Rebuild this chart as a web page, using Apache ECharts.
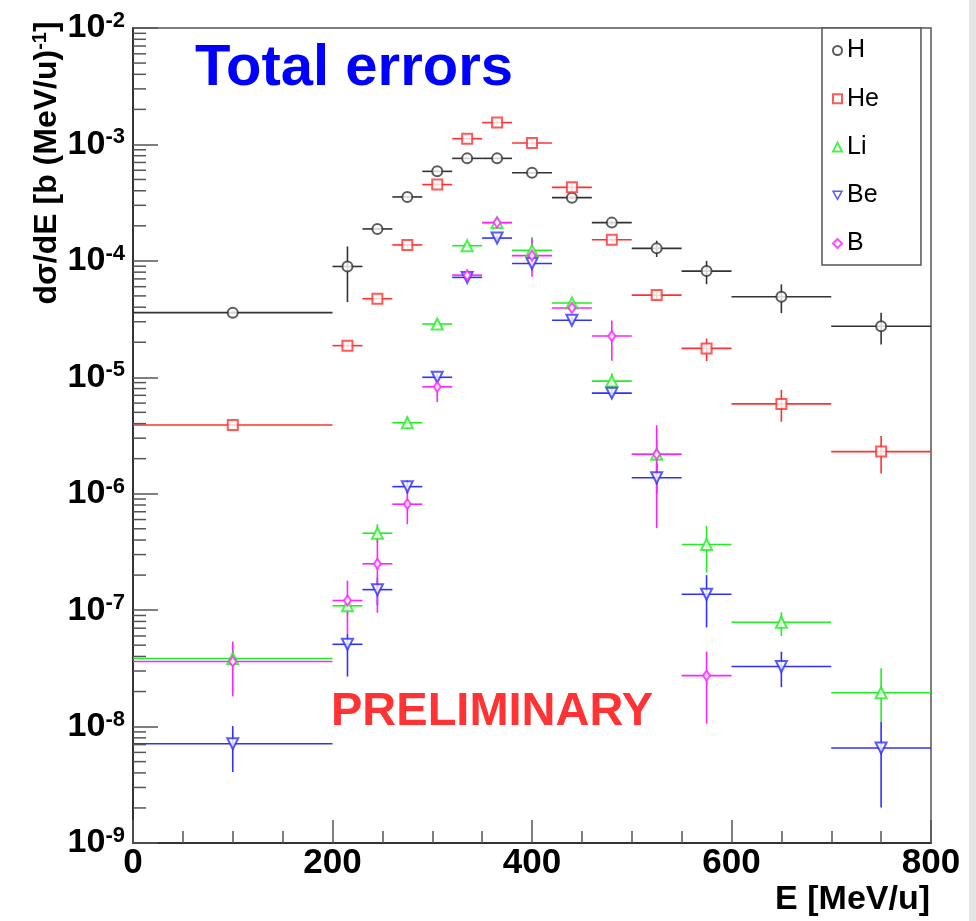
<!DOCTYPE html>
<html>
<head>
<meta charset="utf-8">
<script src="https://cdn.jsdelivr.net/npm/echarts@6/dist/echarts.min.js"></script>
<style>
html,body{margin:0;padding:0;background:#fff;}
#c{width:976px;height:921px;}
</style>
</head>
<body>
<div id="c"></div>
<script>
// ---- data ----
const binCenters = [100,215,245,275,305,335,365,400,440,480,525,575,650,750];
const binLow     = [0,200,230,260,290,320,350,380,420,460,500,550,600,700];
const binHigh    = [200,230,260,290,320,350,380,420,460,500,550,600,700,800];

const H_val = [3.59e-5,8.95e-5,1.88e-4,3.54e-4,5.87e-4,7.59e-4,7.59e-4,5.71e-4,3.49e-4,2.13e-4,1.28e-4,8.17e-5,4.92e-5,2.74e-5];
const H_lo  = [3.5e-5,4.43e-5,1.83e-4,3.45e-4,5.75e-4,7.45e-4,7.45e-4,5.6e-4,3.4e-4,2.05e-4,1.08e-4,6.3e-5,3.56e-5,1.91e-5];
const H_hi  = [3.68e-5,1.33e-4,1.93e-4,3.63e-4,5.99e-4,7.73e-4,7.73e-4,5.82e-4,3.58e-4,2.21e-4,1.49e-4,1.0e-4,6.28e-5,3.59e-5];

const He_val = [3.89e-6,1.87e-5,4.73e-5,1.37e-4,4.52e-4,1.12e-3,1.54e-3,1.03e-3,4.28e-4,1.52e-4,5.08e-5,1.77e-5,5.91e-6,2.30e-6];
const He_lo  = [3.8e-6,1.82e-5,4.6e-5,1.33e-4,4.4e-4,1.09e-3,1.5e-3,1.0e-3,3.9e-4,1.47e-4,4.6e-5,1.38e-5,4.15e-6,1.49e-6];
const He_hi  = [3.98e-6,1.92e-5,4.86e-5,1.41e-4,4.64e-4,1.15e-3,1.58e-3,1.06e-3,4.6e-4,1.57e-4,5.6e-5,2.15e-5,7.8e-6,3.13e-6];

const Li_val = [3.84e-8,1.09e-7,4.58e-7,4.07e-6,2.87e-5,1.35e-4,2.13e-4,1.23e-4,4.35e-5,9.27e-6,2.18e-6,3.66e-7,7.86e-8,1.95e-8];
const Li_lo  = [3.3e-8,9.0e-8,3.8e-7,3.6e-6,2.7e-5,1.3e-4,2.0e-4,1.0e-4,4.1e-5,8.0e-6,1.6e-6,2.11e-7,6.0e-8,1.1e-8];
const Li_hi  = [4.5e-8,1.3e-7,5.47e-7,4.6e-6,3.05e-5,1.4e-4,2.25e-4,1.6e-4,4.6e-5,1.08e-5,2.9e-6,5.3e-7,9.6e-8,3.17e-8];

const Be_val = [7.13e-9,5.09e-8,1.5e-7,1.15e-6,1.0e-5,7.21e-5,1.57e-4,9.5e-5,3.09e-5,7.31e-6,1.37e-6,1.37e-7,3.28e-8,6.55e-9];
const Be_lo  = [4.07e-9,2.69e-8,1.1e-7,1.0e-6,9.4e-6,6.9e-5,1.5e-4,8.8e-5,2.9e-5,6.6e-6,1.0e-6,7.1e-8,2.18e-8,2.02e-9];
const Be_hi  = [1.01e-8,6.25e-8,1.9e-7,1.3e-6,1.07e-5,7.5e-5,1.64e-4,1.03e-4,3.3e-5,8.1e-6,1.8e-6,2.0e-7,4.4e-8,1.1e-8];

const B_val = [3.62e-8,1.21e-7,2.5e-7,8.13e-7,8.28e-6,7.54e-5,2.13e-4,1.11e-4,3.94e-5,2.26e-5,2.18e-6,2.74e-8,null,null];
const B_lo  = [1.82e-8,6.25e-8,9.5e-8,5.47e-7,6.12e-6,7.2e-5,2.05e-4,7.3e-5,3.7e-5,1.39e-5,5.06e-7,1.06e-8,null,null];
const B_hi  = [5.37e-8,1.79e-7,4.07e-7,1.15e-6,1.0e-5,7.9e-5,2.2e-4,1.55e-4,4.2e-5,3.08e-5,3.87e-6,4.4e-8,null,null];

const seriesNames = ['H','He','Li','Be','B'];
const yDecadeExponents = [-9,-8,-7,-6,-5,-4,-3];
const minorTickMultipliers = [2,3,4,5,6,7,8,9];

// ---- styles ----
const FONT = 'Liberation Sans';
const defs = [
  {name:'H',  val:H_val,  lo:H_lo,  hi:H_hi,  color:'#333333', symbol:'emptyCircle',   size:10, rot:0},
  {name:'He', val:He_val, lo:He_lo, hi:He_hi, color:'#ff3030', symbol:'emptyRect',     size:10, rot:0},
  {name:'Li', val:Li_val, lo:Li_lo, hi:Li_hi, color:'#22ee22', symbol:'emptyTriangle', size:11, rot:0},
  {name:'Be', val:Be_val, lo:Be_lo, hi:Be_hi, color:'#3030ff', symbol:'emptyTriangle', size:11, rot:180},
  {name:'B',  val:B_val,  lo:B_lo,  hi:B_hi,  color:'#ff22ff', symbol:'emptyDiamond',  size:[7,10], rot:0}
];

const series = [];
defs.forEach(function(d){
  const errData = [];
  const ptData = [];
  for (let i = 0; i < binCenters.length; i++) {
    if (d.val[i] == null) continue;
    errData.push([binCenters[i], d.val[i], binLow[i], binHigh[i], d.lo[i], d.hi[i]]);
    ptData.push([binCenters[i], d.val[i]]);
  }
  series.push({
    type:'custom',
    name: d.name + ' err',
    data: errData,
    z: 2,
    silent: true,
    encode: {x:0, y:1},
    renderItem: function(params, api){
      const c = api.coord([api.value(0), api.value(1)]);
      const l = api.coord([api.value(2), api.value(1)]);
      const r = api.coord([api.value(3), api.value(1)]);
      const lo = api.coord([api.value(0), api.value(4)]);
      const hi = api.coord([api.value(0), api.value(5)]);
      const st = {stroke: d.color, lineWidth: 1.6};
      return {type:'group', children:[
        {type:'line', shape:{x1:l[0], y1:c[1], x2:r[0], y2:c[1]}, style:st},
        {type:'line', shape:{x1:c[0], y1:lo[1], x2:c[0], y2:hi[1]}, style:st}
      ]};
    }
  });
  series.push({
    type:'scatter',
    name: d.name,
    data: ptData,
    symbol: d.symbol,
    symbolSize: d.size,
    symbolRotate: d.rot,
    z: 5,
    itemStyle: {color: d.color, borderColor: d.color, borderWidth: 1.5}
  });
});

// minor y ticks (2..9 x 10^k)
const minorData = [];
yDecadeExponents.forEach(function(k){
  minorTickMultipliers.forEach(function(m){ minorData.push([0, m * Math.pow(10, k)]); });
});
series.push({
  type:'custom',
  name:'minor ticks',
  data: minorData,
  silent: true,
  z: 6,
  renderItem: function(params, api){
    const p = api.coord([api.value(0), api.value(1)]);
    return {type:'line', shape:{x1:p[0], y1:p[1], x2:p[0]+13, y2:p[1]}, style:{stroke:'#555', lineWidth:1.5}};
  }
});

const legendData = seriesNames.map(function(n){
  if (n === 'Be') {
    return {name:n, icon:'path://M0,0 L10,0 L5,9 Z', itemStyle:{color:'#fff', borderColor:'#3030ff', borderWidth:1.5}};
  }
  return {name:n};
});

const chart = echarts.init(document.getElementById('c'), null, {renderer:'canvas'});
chart.setOption({
  animation:false,
  backgroundColor:'#ffffff',
  grid:{left:133, right:45, top:28, bottom:78, show:true, borderColor:'#555', borderWidth:1.5, backgroundColor:'transparent'},
  legend:{
    orient:'vertical', left:822, top:28,
    data: legendData,
    itemWidth:9, itemHeight:9, itemGap:23.25, itemTextGap:7,
    padding:[10,42,9,10],
    borderColor:'#555', borderWidth:1.5, borderRadius:0,
    backgroundColor:'#fff',
    textStyle:{fontFamily:FONT, fontSize:25, color:'#000', lineHeight:24}
  },
  xAxis:{
    type:'value', min:0, max:800, interval:200,
    axisLine:{show:true, onZero:false, lineStyle:{color:'#333', width:2}},
    axisTick:{show:true, inside:true, length:23, lineStyle:{color:'#555', width:1.5}},
    minorTick:{show:true, splitNumber:4, length:12, lineStyle:{color:'#555', width:1.5}},
    splitLine:{show:false},
    axisLabel:{fontFamily:FONT, fontWeight:'bold', fontSize:35, color:'#000', margin:3, showMinLabel:true, showMaxLabel:true}
  },
  yAxis:{
    type:'log', logBase:10, min:1e-9, max:1e-2, splitNumber:7,
    axisLine:{show:true, lineStyle:{color:'#333', width:2}},
    axisTick:{show:true, inside:true, length:25, lineStyle:{color:'#555', width:1.5}},
    splitLine:{show:false},
    axisLabel:{
      margin:8, showMinLabel:true, showMaxLabel:true,
      formatter:function(v){ const e = Math.round(Math.log10(v)); return '{b|10}{s|' + e + '}'; },
      rich:{
        b:{fontFamily:FONT, fontWeight:'bold', fontSize:34, color:'#000', lineHeight:36},
        s:{fontFamily:FONT, fontWeight:'bold', fontSize:22, color:'#000', verticalAlign:'top', lineHeight:22}
      }
    }
  },
  graphic:[
    {type:'rect', left:969, top:0, shape:{width:7, height:921}, style:{fill:'#e6e6e6'}, silent:true},
    {type:'text', x:195, y:69, style:{text:'Total errors', fill:'#0000ff', font:'bold 58px "Liberation Sans"', align:'left', verticalAlign:'middle'}, z:10},
    {type:'text', x:331, y:712, style:{text:'PRELIMINARY', fill:'#ff3333', font:'bold 47px "Liberation Sans"', align:'left', verticalAlign:'middle'}, z:10},
    {type:'text', x:930, y:900, style:{text:'E [MeV/u]', fill:'#000', font:'bold 34px "Liberation Sans"', align:'right', verticalAlign:'middle'}, z:10},
    {type:'text', x:47, y:163, rotation:Math.PI/2,
      style:{text:'{a|dσ/dE [b (MeV/u)}{s|-1}{a|]}', align:'center', verticalAlign:'middle',
        rich:{a:{fontFamily:FONT, fontWeight:'bold', fontSize:32, fill:'#000', lineHeight:34},
              s:{fontFamily:FONT, fontWeight:'bold', fontSize:20, fill:'#000', verticalAlign:'top', lineHeight:20}}}, z:10}
  ],
  series: series
});
</script>
</body>
</html>
